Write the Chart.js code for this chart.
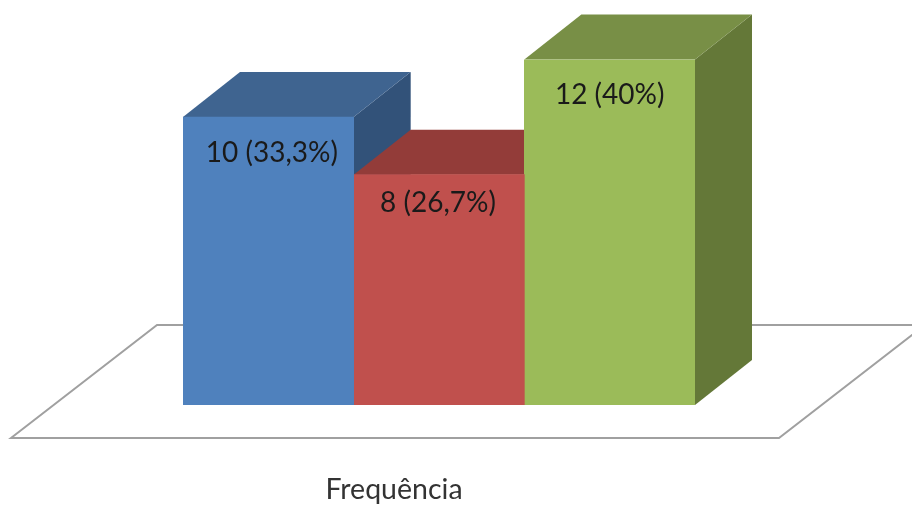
<!DOCTYPE html>
<html>
<head>
<meta charset="utf-8">
<style>html,body{margin:0;padding:0;background:#fff}canvas{display:block;filter:blur(0.5px)}</style>
<script src="https://cdn.jsdelivr.net/npm/chart.js@4/dist/chart.umd.js"></script>
</head>
<body>
<canvas id="c" width="912" height="505"></canvas>
<script>
const categories = ['Frequência'];
const seriesNames = ['A', 'B', 'C'];
const seriesValues = [10, 8, 12];
const valueLabels = ['10 (33,3%)', '8 (26,7%)', '12 (40%)'];
const frontColors = ['#4F81BD', '#C0504D', '#9BBB59'];
const topColors = ['#3F6490', '#933C39', '#788F46'];
const sideColors = ['#325279', '#7B312F', '#647838'];
const labelShift = [[3.5, 36], [-1, 28.5], [0, 35]];

const DX = 57, DY = 45;

function poly(ctx, pts, color) {
  ctx.beginPath();
  pts.forEach((p, i) => i ? ctx.lineTo(p[0], p[1]) : ctx.moveTo(p[0], p[1]));
  ctx.closePath();
  ctx.fillStyle = color;
  ctx.fill();
}

const box3d = {
  id: 'box3d',
  beforeDatasetsDraw(chart) {
    const ctx = chart.ctx, a = chart.chartArea;
    ctx.save();
    // floor
    ctx.beginPath();
    ctx.moveTo(a.left - 172, a.bottom + 33);
    ctx.lineTo(a.left - 26, a.bottom - 80);
    ctx.lineTo(a.right + 230, a.bottom - 80);
    ctx.lineTo(a.right + 84, a.bottom + 33);
    ctx.closePath();
    ctx.strokeStyle = '#A0A0A0';
    ctx.lineWidth = 2;
    ctx.stroke();
    // top and side faces
    chart.data.datasets.forEach((d, i) => {
      const b = chart.getDatasetMeta(i).data[0];
      const l = b.x - b.width / 2, r = b.x + b.width / 2, t = b.y, base = b.base;
      poly(ctx, [[r, t], [r + DX, t - DY], [r + DX, base - DY], [r, base]], sideColors[i]);
      poly(ctx, [[l, t], [l + DX, t - DY], [r + DX, t - DY], [r, t]], topColors[i]);
    });
    ctx.restore();
  },
  afterDatasetsDraw(chart) {
    const ctx = chart.ctx;
    ctx.save();
    ctx.font = '28px Lato';
    ctx.fillStyle = '#1A1A1A';
    ctx.textAlign = 'center';
    ctx.textBaseline = 'middle';
    chart.data.datasets.forEach((d, i) => {
      const b = chart.getDatasetMeta(i).data[0];
      ctx.fillText(valueLabels[i], b.x + labelShift[i][0], b.y + labelShift[i][1]);
    });
    ctx.restore();
  }
};

new Chart(document.getElementById('c'), {
  type: 'bar',
  data: {
    labels: categories,
    datasets: seriesValues.map((v, i) => ({
      label: seriesNames[i],
      data: [v],
      backgroundColor: frontColors[i],
      borderWidth: 0,
      barPercentage: 1,
      categoryPercentage: 1
    }))
  },
  options: {
    responsive: false,
    animation: false,
    layout: { padding: { left: 183, right: 217, top: 59.5, bottom: 0 } },
    plugins: { legend: { display: false }, tooltip: { enabled: false }, title: { display: false } },
    scales: {
      x: {
        grid: { display: false },
        border: { display: false },
        afterFit(s) { s.height = 100; },
        ticks: { color: '#333333', font: { family: 'Lato', size: 28.5 }, padding: 60, labelOffset: -45, maxRotation: 0 }
      },
      y: { display: false, min: 0, max: 12 }
    }
  },
  plugins: [box3d]
});
</script>
</body>
</html>
